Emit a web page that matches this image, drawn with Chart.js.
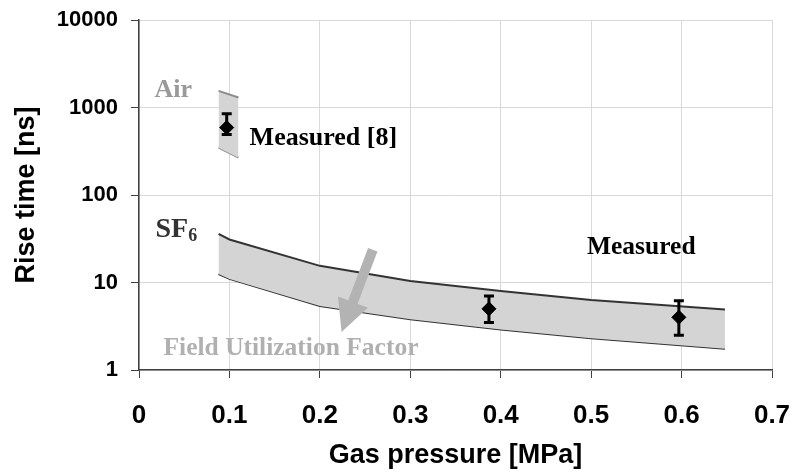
<!DOCTYPE html>
<html>
<head>
<meta charset="utf-8">
<script src="https://cdn.jsdelivr.net/npm/chart.js@4.4.1/dist/chart.umd.min.js"></script>
<style>
  html, body { margin: 0; padding: 0; background: #fff; }
  #wrap { width: 792px; height: 476px; }
</style>
</head>
<body>
<div id="wrap"><canvas id="chart"></canvas></div>
<script>
// SF6 band (upper / lower curves)
var pressure = [0.088, 0.1, 0.2, 0.3, 0.4, 0.5, 0.648];
var sf6Upper = [36, 31, 15.5, 10.4, 8.0, 6.3, 4.9];
var sf6Lower = [12.5, 11, 5.4, 3.8, 2.9, 2.3, 1.75];

// Air band
var airPressure = [0.088, 0.11];
var airUpper = [1550, 1300];
var airLower = [347, 267];

// measured points with error bars
var measuredX = [0.097, 0.387, 0.597];
var measuredY = [590, 5.0, 4.0];
var errLow = [490, 3.5, 2.5];
var errHigh = [850, 7.0, 6.2];

// ticks
var xTicks = [0, 0.1, 0.2, 0.3, 0.4, 0.5, 0.6, 0.7];
var yTicks = [1, 10, 100, 1000, 10000];

function pts(xs, ys) {
  return xs.map(function (x, i) { return { x: x, y: ys[i] }; });
}

var serif = '"Liberation Serif", "Times New Roman", serif';
var sans = '"Liberation Sans", Arial, sans-serif';

// error bars, arrow and text labels (placed in data coordinates)
var extras = {
  id: "extras",
  afterDatasetsDraw: function (chart) {
    var ctx = chart.ctx;
    var xs = chart.scales.x, ys = chart.scales.y;
    ctx.save();

    // error bars
    ctx.strokeStyle = "#000";
    ctx.lineWidth = 3;
    measuredX.forEach(function (x, i) {
      var px = xs.getPixelForValue(x);
      var lo = ys.getPixelForValue(errLow[i]);
      var hi = ys.getPixelForValue(errHigh[i]);
      ctx.beginPath();
      ctx.moveTo(px, lo); ctx.lineTo(px, hi);
      ctx.moveTo(px - 5, lo); ctx.lineTo(px + 5, lo);
      ctx.moveTo(px - 5, hi); ctx.lineTo(px + 5, hi);
      ctx.stroke();
    });

    // arrow "Field Utilization Factor"
    var x0 = xs.getPixelForValue(0.2585), y0 = ys.getPixelForValue(23.7);
    var x1 = xs.getPixelForValue(0.224), y1 = ys.getPixelForValue(2.72);
    var ang = Math.atan2(y1 - y0, x1 - x0);
    var len = Math.hypot(x1 - x0, y1 - y0);
    ctx.translate(x0, y0);
    ctx.rotate(ang);
    ctx.fillStyle = "#b3b3b3";
    ctx.beginPath();
    ctx.moveTo(0, -5);
    ctx.lineTo(len - 32, -5);
    ctx.lineTo(len - 32, -16);
    ctx.lineTo(len, 0);
    ctx.lineTo(len - 32, 16);
    ctx.lineTo(len - 32, 5);
    ctx.lineTo(0, 5);
    ctx.closePath();
    ctx.fill();
    ctx.setTransform(1, 0, 0, 1, 0, 0);

    // labels
    ctx.textBaseline = "alphabetic";
    ctx.textAlign = "left";
    function label(text, x, y, size, color) {
      ctx.font = "bold " + size + "px " + serif;
      ctx.fillStyle = color;
      var px = xs.getPixelForValue(x), py = ys.getPixelForValue(y);
      ctx.fillText(text, px, py);
      return { px: px + ctx.measureText(text).width, py: py };
    }
    label("Air", 0.0172, 1306, 26, "#999999");
    label("Measured [8]", 0.1223, 368, 26, "#000");
    var sf = label("SF", 0.0183, 33.4, 28, "#333333");
    ctx.font = "bold 18px " + serif;
    ctx.fillText("6", sf.px, sf.py + 4);
    label("Measured", 0.4954, 21.3, 25.5, "#000");
    label("Field Utilization Factor", 0.0271, 1.485, 25.5, "#b0b0b0");
    ctx.restore();
  }
};

var ctx = document.getElementById("chart");

var data = {
  datasets: [
    {
      // measured points, drawn on top of the bands
      data: pts(measuredX, measuredY),
      showLine: false,
      fill: false,
      pointStyle: "rectRot",
      pointRadius: 7,
      pointHoverRadius: 7,
      pointBackgroundColor: "#000",
      pointBorderColor: "#000",
      pointBorderWidth: 1,
      backgroundColor: "#000",
      borderColor: "#000"
    },
    {
      data: pts(pressure, sf6Upper),
      fill: "+1",
      backgroundColor: "#d4d4d4",
      borderColor: "#333333",
      borderWidth: 2,
      pointRadius: 0,
      tension: 0
    },
    {
      data: pts(pressure, sf6Lower),
      fill: false,
      borderColor: "#333333",
      borderWidth: 2,
      pointRadius: 0,
      tension: 0
    },
    {
      data: pts(airPressure, airUpper),
      fill: "+1",
      backgroundColor: "#d4d4d4",
      borderColor: "#8c8c8c",
      borderWidth: 2,
      pointRadius: 0
    },
    {
      data: pts(airPressure, airLower),
      fill: false,
      borderColor: "#8c8c8c",
      borderWidth: 2,
      pointRadius: 0
    }
  ]
};

var options = {
  responsive: true,
  maintainAspectRatio: false,
  animation: false,
  layout: { padding: 0 },
  plugins: {
    legend: { display: false },
    tooltip: { enabled: false }
  },
  scales: {
    x: {
      type: "linear",
      min: 0,
      max: 0.7,
      afterBuildTicks: function (scale) {
        scale.ticks = xTicks.map(function (v) { return { value: v }; });
      },
      afterFit: function (scale) {
        scale.height = 106;
        scale.paddingLeft = 0;
        scale.paddingRight = 20;
      },
      ticks: {
        padding: 22,
        color: "#000",
        font: { family: sans, size: 26, weight: "bold" },
        callback: function (v) { return String(Math.round(v * 10) / 10); }
      },
      grid: { color: "#d9d9d9", tickColor: "#404040", tickLength: 8 },
      border: { color: "#404040", width: 1.5 },
      title: {
        display: true,
        text: "Gas pressure [MPa]",
        color: "#000",
        font: { family: sans, size: 27, weight: "bold" },
        padding: { top: 0, bottom: 4 }
      }
    },
    y: {
      type: "logarithmic",
      min: 1,
      max: 10000,
      afterBuildTicks: function (scale) {
        scale.ticks = yTicks.map(function (v) { return { value: v }; });
      },
      afterFit: function (scale) {
        scale.width = 139;
        scale.paddingTop = 20;
        scale.paddingBottom = 0;
      },
      ticks: {
        padding: 13,
        color: "#000",
        font: { family: sans, size: 22, weight: "bold" },
        callback: function (v) { return String(v); }
      },
      grid: { color: "#d9d9d9", tickColor: "#404040", tickLength: 8 },
      border: { color: "#404040", width: 1.5 },
      title: {
        display: true,
        text: "Rise time [ns]",
        color: "#000",
        font: { family: sans, size: 27, weight: "bold" },
        padding: { top: 10, bottom: 0 }
      }
    }
  }
};

var chart = new Chart(ctx, {
  type: "line",
  data: data,
  options: options,
  plugins: [extras]
});
</script>
</body>
</html>
